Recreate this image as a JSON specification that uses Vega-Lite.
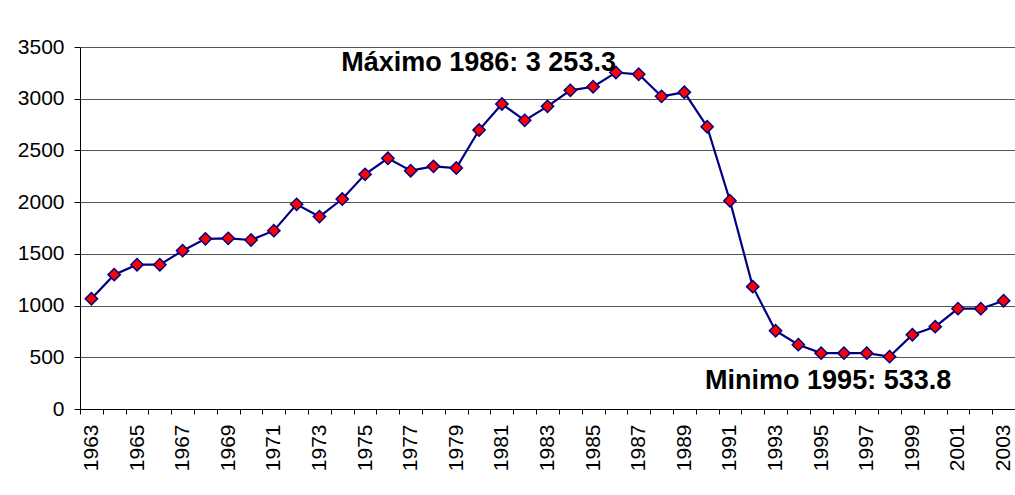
{
  "$schema": "https://vega.github.io/schema/vega-lite/v6.json",
  "width": 935,
  "height": 362,
  "autosize": {"type": "none"},
  "padding": {"left": 80, "top": 47, "right": 0, "bottom": 86},
  "background": "white",
  "config": {"view": {"stroke": null}, "font": "Liberation Sans"},
  "datasets": {
    "series": [
      {"year": 1963, "value": 1066}, {"year": 1964, "value": 1299}, {"year": 1965, "value": 1395},
      {"year": 1966, "value": 1395}, {"year": 1967, "value": 1531}, {"year": 1968, "value": 1645},
      {"year": 1969, "value": 1650}, {"year": 1970, "value": 1634}, {"year": 1971, "value": 1724},
      {"year": 1972, "value": 1979}, {"year": 1973, "value": 1860}, {"year": 1974, "value": 2030},
      {"year": 1975, "value": 2269}, {"year": 1976, "value": 2424}, {"year": 1977, "value": 2304},
      {"year": 1978, "value": 2346}, {"year": 1979, "value": 2330}, {"year": 1980, "value": 2697},
      {"year": 1981, "value": 2949}, {"year": 1982, "value": 2791}, {"year": 1983, "value": 2926},
      {"year": 1984, "value": 3081}, {"year": 1985, "value": 3116}, {"year": 1986, "value": 3253.3},
      {"year": 1987, "value": 3236}, {"year": 1988, "value": 3023}, {"year": 1989, "value": 3062},
      {"year": 1990, "value": 2729}, {"year": 1991, "value": 2014}, {"year": 1992, "value": 1183},
      {"year": 1993, "value": 757}, {"year": 1994, "value": 622}, {"year": 1995, "value": 540},
      {"year": 1996, "value": 540}, {"year": 1997, "value": 540}, {"year": 1998, "value": 506},
      {"year": 1999, "value": 718}, {"year": 2000, "value": 796}, {"year": 2001, "value": 970},
      {"year": 2002, "value": 970}, {"year": 2003, "value": 1047}
    ],
    "notes": [
      {"kind": "max", "year": 1986, "value": 3345, "label": "Máximo 1986: 3 253.3"},
      {"kind": "min", "year": 1995, "value": 270, "label": "Minimo 1995: 533.8"}
    ]
  },
  "encoding": {
    "x": {
      "field": "year",
      "type": "ordinal",
      "bandPosition": 0.5,
      "scale": {"type": "band", "paddingInner": 0, "paddingOuter": 0},
      "axis": {
        "title": null,
        "labelAngle": -90,
        "labelFontSize": 21,
        "labelColor": "black",
        "labelPadding": 10,
        "labelOverlap": false,
        "labelExpr": "datum.value % 2 == 1 ? datum.label : ''",
        "tickBand": "extent",
        "tickColor": "black",
        "tickSize": 5,
        "domainColor": "black",
        "grid": false
      }
    },
    "y": {
      "field": "value",
      "type": "quantitative",
      "scale": {"domain": [0, 3500], "nice": false},
      "axis": {
        "title": null,
        "values": [0, 500, 1000, 1500, 2000, 2500, 3000, 3500],
        "format": "d",
        "labelFontSize": 21,
        "labelColor": "black",
        "labelPadding": 10,
        "tickSize": 6,
        "tickColor": "black",
        "domainColor": "black",
        "gridColor": "#555555",
        "gridOpacity": 1
      }
    }
  },
  "layer": [
    {
      "data": {"name": "series"},
      "mark": {"type": "line", "color": "#000080", "strokeWidth": 2.2}
    },
    {
      "data": {"name": "series"},
      "mark": {"type": "point", "shape": "diamond", "filled": true, "fill": "#ff0000", "stroke": "#000080", "strokeWidth": 1.5, "size": 150, "opacity": 1}
    },
    {
      "data": {"name": "notes"},
      "transform": [{"filter": "datum.kind == 'max'"}],
      "mark": {"type": "text", "fontWeight": "bold", "fontSize": 27, "align": "right", "baseline": "middle", "color": "black"},
      "encoding": {"text": {"field": "label"}}
    },
    {
      "data": {"name": "notes"},
      "transform": [{"filter": "datum.kind == 'min'"}],
      "mark": {"type": "text", "fontWeight": "bold", "fontSize": 27, "align": "center", "baseline": "middle", "dx": 7, "color": "black"},
      "encoding": {"text": {"field": "label"}}
    }
  ]
}
